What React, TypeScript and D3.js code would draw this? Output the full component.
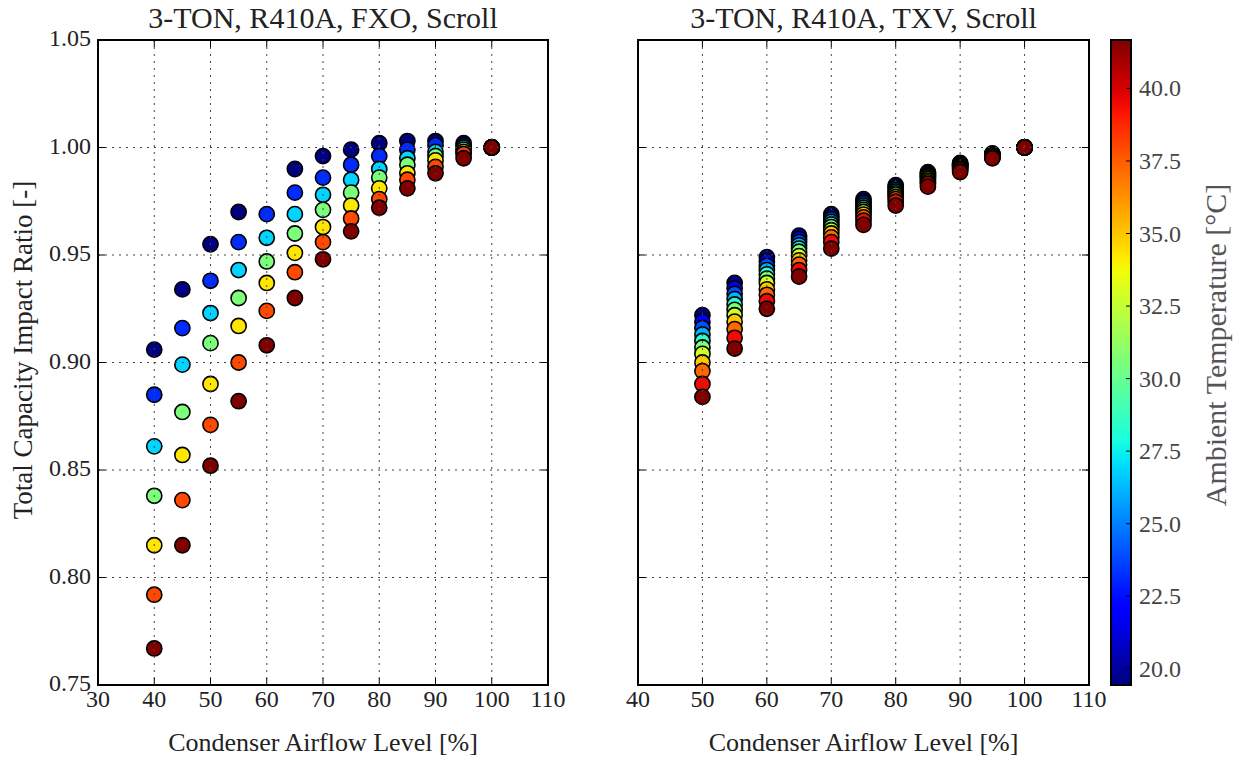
import React, { useEffect, useRef } from 'react';
import * as d3 from 'd3';

// Ambient temperatures (°C), one per marker row, coldest first
const fxoTemps = [19.44, 23.15, 26.85, 30.56, 34.26, 37.96, 41.67];
const txvTemps = [19.44, 21.67, 23.89, 26.11, 28.33, 30.56, 32.78, 35.0, 37.22, 39.44, 41.67];

// Condenser airflow levels (%)
const fxoAirflow = [40, 45, 50, 55, 60, 65, 70, 75, 80, 85, 90, 95, 100];
const txvAirflow = [50, 55, 60, 65, 70, 75, 80, 85, 90, 95, 100];

// Capacity ratio, one row per airflow level, one value per temperature (null = no point)
const fxoRatio: (number | null)[][] = [
  [0.906, 0.885, 0.861, 0.838, 0.815, 0.792, 0.767],
  [0.934, 0.916, 0.899, 0.877, 0.857, 0.836, 0.815],
  [0.955, 0.938, 0.923, 0.909, 0.890, 0.871, 0.852],
  [0.970, 0.956, 0.943, 0.930, 0.917, 0.900, 0.882],
  [null, 0.969, 0.958, 0.947, 0.937, 0.924, 0.908],
  [0.990, 0.979, 0.969, 0.960, 0.951, 0.942, 0.930],
  [0.996, 0.986, 0.978, 0.971, 0.963, 0.956, 0.948],
  [0.999, 0.992, 0.985, 0.979, 0.973, 0.967, 0.961],
  [1.002, 0.996, 0.990, 0.986, 0.981, 0.976, 0.972],
  [1.003, 0.999, 0.995, 0.992, 0.988, 0.985, 0.981],
  [1.003, 1.001, 0.998, 0.996, 0.994, 0.991, 0.988],
  [1.002, 1.001, 1.000, 0.999, 0.998, 0.997, 0.995],
  [1.000, 1.000, 1.000, 1.000, 1.000, 1.000, 1.000],
];

const txvRatio: number[][] = [
  [0.922, 0.919, 0.916, 0.913, 0.910, 0.907, 0.904, 0.900, 0.896, 0.890, 0.884],
  [0.937, 0.9345, 0.932, 0.9295, 0.927, 0.9245, 0.922, 0.919, 0.9155, 0.9115, 0.9065],
  [0.949, 0.947, 0.945, 0.943, 0.941, 0.939, 0.937, 0.934, 0.9315, 0.9285, 0.925],
  [0.959, 0.9575, 0.956, 0.9545, 0.953, 0.9515, 0.9495, 0.9475, 0.9455, 0.943, 0.940],
  [0.969, 0.9678, 0.9666, 0.9654, 0.9642, 0.963, 0.9615, 0.960, 0.9582, 0.956, 0.953],
  [0.976, 0.975, 0.974, 0.973, 0.972, 0.971, 0.970, 0.9688, 0.9675, 0.966, 0.964],
  [0.9825, 0.9817, 0.981, 0.9802, 0.9795, 0.9787, 0.978, 0.977, 0.976, 0.9748, 0.973],
  [0.9885, 0.988, 0.9875, 0.987, 0.9865, 0.986, 0.9853, 0.9846, 0.9838, 0.983, 0.9818],
  [0.9928, 0.9925, 0.9922, 0.9919, 0.9916, 0.9913, 0.991, 0.9906, 0.9902, 0.9895, 0.9886],
  [0.9972, 0.997, 0.9968, 0.9966, 0.9964, 0.9962, 0.996, 0.9958, 0.9956, 0.9953, 0.995],
  [1.0, 1.0, 1.0, 1.0, 1.0, 1.0, 1.0, 1.0, 1.0, 1.0, 1.0],
];

// Tick labels
const yTicks = [0.75, 0.8, 0.85, 0.9, 0.95, 1.0, 1.05];
const fxoXTicks = [30, 40, 50, 60, 70, 80, 90, 100, 110];
const txvXTicks = [40, 50, 60, 70, 80, 90, 100, 110];
const cbarTicks = [20, 22.5, 25, 27.5, 30, 32.5, 35, 37.5, 40];

const tempMin = 19.44;
const tempMax = 41.67;

const FONT = '"Liberation Serif", "DejaVu Serif", serif';

// matplotlib "jet" colormap
const jetR = d3.scaleLinear().domain([0, 0.35, 0.66, 0.89, 1]).range([0, 0, 1, 1, 0.5]).clamp(true);
const jetG = d3.scaleLinear().domain([0, 0.125, 0.375, 0.64, 0.91, 1]).range([0, 0, 1, 1, 0, 0]).clamp(true);
const jetB = d3.scaleLinear().domain([0, 0.11, 0.34, 0.65, 1]).range([0.5, 1, 1, 0, 0]).clamp(true);
const jet = (t: number) =>
  d3.rgb(jetR(t) * 255, jetG(t) * 255, jetB(t) * 255).formatHex();

const App = () => {
  const svgRef = useRef<SVGSVGElement>(null);

  useEffect(() => {
    const svg = d3.select(svgRef.current);
    svg.selectAll('*').remove();

    const top = 40;
    const bottom = 685;
    const tickLen = 7;

    const yScale = d3.scaleLinear().domain([0.75, 1.05]).range([bottom, top]);
    const tNorm = d3.scaleLinear().domain([tempMin, tempMax]);

    // Draw one scatter panel
    const panel = (
      left: number,
      right: number,
      xDomain: [number, number],
      xTicks: number[],
      airflow: number[],
      ratio: (number | null)[][],
      temps: number[],
      title: string,
      showY: boolean
    ) => {
      const xScale = d3.scaleLinear().domain(xDomain).range([left, right]);
      const g = svg.append('g');

      // points, coldest first so hottest ends on top
      const pts: { x: number; y: number; t: number }[] = [];
      temps.forEach((t, ti) => {
        airflow.forEach((a, ai) => {
          const v = ratio[ai][ti];
          if (v != null) pts.push({ x: a, y: v, t });
        });
      });
      g.selectAll('circle')
        .data(pts)
        .enter()
        .append('circle')
        .attr('cx', d => xScale(d.x))
        .attr('cy', d => yScale(d.y))
        .attr('r', 7.6)
        .attr('fill', d => jet(tNorm(d.t)))
        .attr('stroke', '#000')
        .attr('stroke-width', 1.6);

      // dotted grid on top of the markers (as in the source)
      const grid = g.append('g').attr('stroke', '#444').attr('stroke-width', 1).attr('stroke-dasharray', '2,5');
      xTicks.slice(1, -1).forEach(v => {
        grid.append('line').attr('x1', xScale(v)).attr('x2', xScale(v)).attr('y1', top).attr('y2', bottom);
      });
      yTicks.slice(1, -1).forEach(v => {
        grid.append('line').attr('x1', left).attr('x2', right).attr('y1', yScale(v)).attr('y2', yScale(v));
      });

      // inward ticks on all sides
      const ticks = g.append('g').attr('stroke', '#000').attr('stroke-width', 1);
      xTicks.forEach(v => {
        ticks.append('line').attr('x1', xScale(v)).attr('x2', xScale(v)).attr('y1', bottom).attr('y2', bottom - tickLen);
        ticks.append('line').attr('x1', xScale(v)).attr('x2', xScale(v)).attr('y1', top).attr('y2', top + tickLen);
      });
      yTicks.forEach(v => {
        ticks.append('line').attr('x1', left).attr('x2', left + tickLen).attr('y1', yScale(v)).attr('y2', yScale(v));
        ticks.append('line').attr('x1', right).attr('x2', right - tickLen).attr('y1', yScale(v)).attr('y2', yScale(v));
      });

      // frame
      g.append('rect')
        .attr('x', left).attr('y', top)
        .attr('width', right - left).attr('height', bottom - top)
        .attr('fill', 'none').attr('stroke', '#000').attr('stroke-width', 2);

      // x tick labels
      g.selectAll('.xlab')
        .data(xTicks)
        .enter()
        .append('text')
        .attr('x', d => xScale(d))
        .attr('y', bottom + 22)
        .attr('text-anchor', 'middle')
        .attr('font-family', FONT)
        .attr('font-size', 24)
        .attr('fill', '#222')
        .text(d => d);

      if (showY) {
        g.selectAll('.ylab')
          .data(yTicks)
          .enter()
          .append('text')
          .attr('x', left - 7)
          .attr('y', d => yScale(d) + 6)
          .attr('text-anchor', 'end')
          .attr('font-family', FONT)
          .attr('font-size', 24)
          .attr('fill', '#222')
          .text(d => d.toFixed(2));
      }

      // title and x label
      g.append('text')
        .attr('x', (left + right) / 2)
        .attr('y', top - 12)
        .attr('text-anchor', 'middle')
        .attr('font-family', FONT)
        .attr('font-size', 30)
        .attr('fill', '#222')
        .text(title);

      g.append('text')
        .attr('x', (left + right) / 2)
        .attr('y', bottom + 66)
        .attr('text-anchor', 'middle')
        .attr('font-family', FONT)
        .attr('font-size', 26)
        .attr('fill', '#222')
        .text('Condenser Airflow Level [%]');
    };

    panel(98, 548, [30, 110], fxoXTicks, fxoAirflow, fxoRatio, fxoTemps, '3-TON, R410A, FXO, Scroll', true);
    panel(638, 1089, [40, 110], txvXTicks, txvAirflow, txvRatio, txvTemps, '3-TON, R410A, TXV, Scroll', false);

    // y axis label
    svg.append('text')
      .attr('transform', 'translate(32,350) rotate(-90)')
      .attr('text-anchor', 'middle')
      .attr('font-family', FONT)
      .attr('font-size', 27)
      .attr('fill', '#222')
      .text('Total Capacity Impact Ratio [-]');

    // colorbar
    const cbLeft = 1111;
    const cbWidth = 20;
    const cScale = d3.scaleLinear().domain([tempMin, tempMax]).range([bottom, top]);
    const grad = svg.append('defs').append('linearGradient')
      .attr('id', 'jetGrad')
      .attr('x1', 0).attr('y1', 1).attr('x2', 0).attr('y2', 0);
    d3.range(0, 1.0001, 0.02).forEach(t => {
      grad.append('stop').attr('offset', t).attr('stop-color', jet(t));
    });
    svg.append('rect')
      .attr('x', cbLeft).attr('y', top)
      .attr('width', cbWidth).attr('height', bottom - top)
      .attr('fill', 'url(#jetGrad)')
      .attr('stroke', '#000').attr('stroke-width', 2);

    const cb = svg.append('g');
    cbarTicks.forEach(v => {
      cb.append('line')
        .attr('x1', cbLeft + cbWidth).attr('x2', cbLeft + cbWidth - 5)
        .attr('y1', cScale(v)).attr('y2', cScale(v))
        .attr('stroke', '#000').attr('stroke-width', 1);
      cb.append('text')
        .attr('x', cbLeft + cbWidth + 8)
        .attr('y', cScale(v) + 8)
        .attr('font-family', FONT)
        .attr('font-size', 24)
        .attr('fill', '#444')
        .text(v.toFixed(1));
    });
    svg.append('text')
      .attr('transform', 'translate(1226,345) rotate(-90)')
      .attr('text-anchor', 'middle')
      .attr('font-family', FONT)
      .attr('font-size', 30)
      .attr('fill', '#555')
      .text('Ambient Temperature [°C]');
  }, []);

  return (
    <svg
      ref={svgRef}
      width={1237}
      height={759}
      style={{ position: 'absolute', left: 0, top: 0, background: '#fff' }}
    />
  );
};

export default App;
